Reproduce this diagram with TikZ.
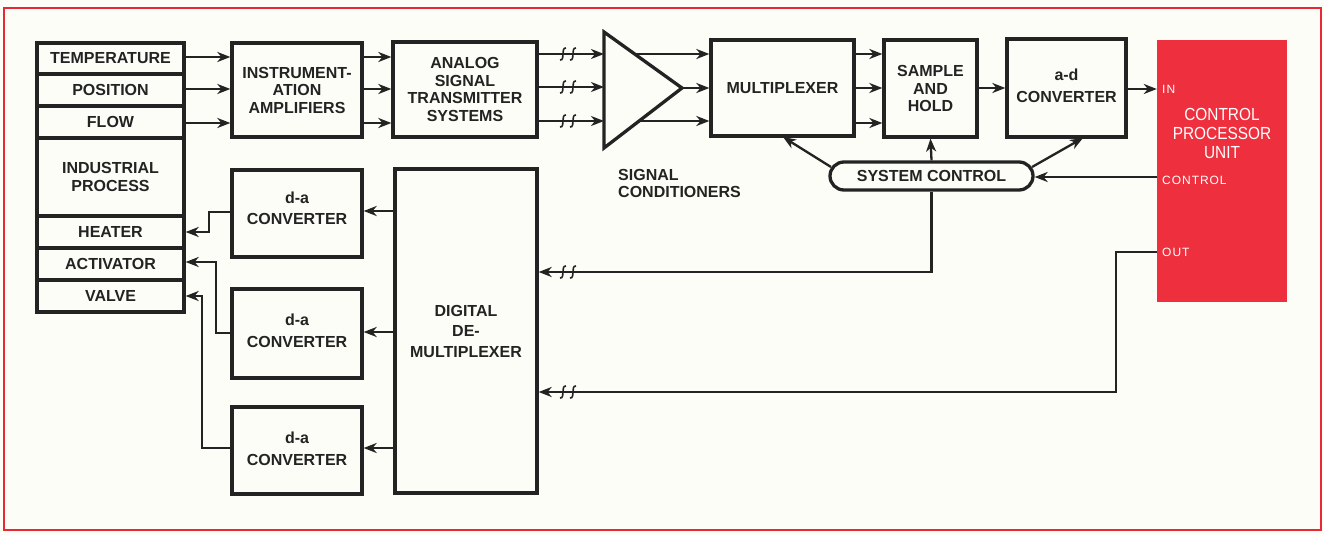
\documentclass[tikz,border=0pt]{standalone}
\usepackage{fontspec}
\setmainfont{Liberation Sans}
\newfontfamily\cpufont{Liberation Sans}[FakeStretch=0.88]
\newfontfamily\pinfont{Liberation Sans}[LetterSpace=8]
\usetikzlibrary{arrows.meta}
\definecolor{framered}{RGB}{232,40,52}
\definecolor{cpured}{RGB}{238,48,62}
\definecolor{paper}{RGB}{253,253,248}
\definecolor{ink}{RGB}{35,35,35}
\tikzset{
  box/.style={draw=ink, line width=3.3pt, fill=paper, align=center, inner sep=0pt,
    font=\fontsize{16}{17.5}\selectfont\bfseries, text=ink},
  row/.style={box, minimum width=147pt},
  lbl/.style={font=\fontsize{16}{17.5}\selectfont\bfseries, text=ink, align=center, inner sep=0pt},
  conn/.style={draw=ink, line width=2.3pt},
  arr/.style={conn, -{Stealth[length=13pt,width=10pt,inset=4pt]}},
  pinlbl/.style={font=\fontsize{12}{13}\selectfont\pinfont, text=white, anchor=west, inner sep=0pt},
  brk/.pic={
    \draw[ink, line width=1.6pt] (-2,-6) .. controls (-5,-6.5) and (-5,-2) .. (-5,0) .. controls (-5,2) and (-5,6.5) .. (-8,6);
    \draw[ink, line width=1.6pt] (8,-6) .. controls (5,-6.5) and (5,-2) .. (5,0) .. controls (5,2) and (5,6.5) .. (2,6);
  }
}
\begin{document}
\begin{tikzpicture}[x=1pt, y=-1pt]
\useasboundingbox (0,0) rectangle (1324,535);
\fill[paper] (0,0) rectangle (1324,535);
\draw[framered, line width=2pt] (4,8) rectangle (1321,530);

% left block rows
\node[row, minimum height=31pt] (temp) at (110.5,58.5) {TEMPERATURE};
\node[row, minimum height=32pt] (pos) at (110.5,90) {POSITION};
\node[row, minimum height=32pt] (flow) at (110.5,122) {FLOW};
\node[row, minimum height=78pt] (ind) at (110.5,177) {INDUSTRIAL\\PROCESS};
\node[row, minimum height=32pt] (heat) at (110.5,232) {HEATER};
\node[row, minimum height=32pt] (act) at (110.5,264) {ACTIVATOR};
\node[row, minimum height=32pt] (valve) at (110.5,296) {VALVE};

% top chain
\node[box, minimum width=130pt, minimum height=94pt] (amp) at (297,90) {INSTRUMENT-\\ATION\\AMPLIFIERS};
\node[box, minimum width=144pt, minimum height=95pt] (ana) at (465,89.5) {ANALOG\\SIGNAL\\TRANSMITTER\\SYSTEMS};
\node[box, minimum width=143pt, minimum height=96pt] (mux) at (782.5,88) {MULTIPLEXER};
\node[box, minimum width=93pt, minimum height=97pt] (sh) at (930.5,88.5) {SAMPLE\\AND\\HOLD};
\node[box, minimum width=119pt, minimum height=98pt] (ad) at (1066.5,88) {};
\node[lbl] (adt1) at (1066.5,75) {a-d};
\node[lbl] (adt2) at (1066.5,97) {CONVERTER};
\node[fill=cpured, minimum width=130pt, minimum height=262pt, inner sep=0pt] (cpu) at (1222,171) {};
\node[text=white, align=center, font=\fontsize{17.5}{19}\selectfont\cpufont, inner sep=0pt] (cputxt) at (1222,133) {CONTROL\\PROCESSOR\\UNIT};
\node[pinlbl] (pin) at (1162,89) {IN};
\node[pinlbl] (pctl) at (1162,180) {CONTROL};
\node[pinlbl] (pout) at (1162,252) {OUT};

% signal conditioner triangle
\coordinate (t1) at (604,32);
\coordinate (tt) at (682,88);
\coordinate (t2) at (604,148);
\draw[ink, line width=3.3pt, line join=miter] (t1) -- (tt) -- (t2) -- cycle;
\coordinate (tu) at (634.6,54);
\coordinate (tl) at (639,121);
\node[lbl, align=left, anchor=north west] (sc) at (618,169) {SIGNAL\\CONDITIONERS};

% lower blocks
\node[box, minimum width=130pt, minimum height=87pt] (da1) at (297,213.5) {};
\node[lbl] (da1a) at (297,198) {d-a};
\node[lbl] (da1b) at (297,219) {CONVERTER};
\node[box, minimum width=130pt, minimum height=89pt] (da2) at (297,333.5) {};
\node[lbl] (da2a) at (297,320) {d-a};
\node[lbl] (da2b) at (297,342) {CONVERTER};
\node[box, minimum width=130pt, minimum height=87pt] (da3) at (297,450.5) {};
\node[lbl] (da3a) at (297,438) {d-a};
\node[lbl] (da3b) at (297,460) {CONVERTER};
\node[box, minimum width=142pt, minimum height=324pt] (demux) at (466,331) {DIGITAL\\[3pt]DE-\\[3pt]MULTIPLEXER};
\node[box, minimum width=203pt, minimum height=28pt, rounded corners=14pt] (sys) at (931.5,176) {SYSTEM CONTROL};

% inputs
\draw[arr] (temp.east |- 0,57) -- (amp.west |- 0,57);
\draw[arr] (pos.east |- 0,89) -- (amp.west |- 0,89);
\draw[arr] (flow.east |- 0,123) -- (amp.west |- 0,123);
\draw[arr] (amp.east |- 0,57) -- (ana.west |- 0,57);
\draw[arr] (amp.east |- 0,89) -- (ana.west |- 0,89);
\draw[arr] (amp.east |- 0,123) -- (ana.west |- 0,123);
\foreach \yy in {54,87,121} {
  \draw[arr] (ana.east |- 0,\yy) -- (t1 |- 0,\yy);
  \pic at (568,\yy) {brk};
}
\draw[arr] (tu) -- (mux.west |- tu);
\draw[arr] (tt) -- (mux.west |- tt);
\draw[arr] (tl) -- (mux.west |- tl);
\draw[arr] (mux.east |- 0,54) -- (sh.west |- 0,54);
\draw[arr] (mux.east |- 0,88) -- (sh.west |- 0,88);
\draw[arr] (mux.east |- 0,123) -- (sh.west |- 0,123);
\draw[arr] (sh.east |- 0,88) -- (ad.west |- 0,88);
\draw[arr] (ad.east |- 0,89) -- (cpu.west |- 0,89);

% system control
\coordinate (sysl) at (831,167);
\coordinate (sysr) at (1032,167);
\draw[arr] (sysl) -- (783,137);
\draw[arr] (sysr) -- (1083,138);
\draw[arr] (sys.north) -- (sh.south);
\draw[arr] (cpu.west |- 0,177) -- (sys.east |- 0,177);
\coordinate (k1) at (sys.south |- 0,272);
\draw[arr] (sys.south) -- (k1) -- (demux.east |- k1);
\pic at (568,272) {brk};
\coordinate (o1) at (1116,252);
\coordinate (o2) at (1116,392);
\draw[arr] (cpu.west |- o1) -- (o1) -- (o2) -- (demux.east |- o2);
\pic at (568,392) {brk};

% outputs
\draw[arr] (demux.west |- 0,211) -- (da1.east |- 0,211);
\draw[arr] (demux.west |- 0,332) -- (da2.east |- 0,332);
\draw[arr] (demux.west |- 0,448) -- (da3.east |- 0,448);
\draw[arr] (da1.west |- 0,212) -- (209,212) -- (209,232) -- (heat.east);
\draw[arr] (da2.west |- 0,333) -- (216,333) -- (216,262) -- (act.east |- 0,262);
\draw[arr] (da3.west |- 0,448) -- (202,448) -- (202,296) -- (valve.east);
\end{tikzpicture}
\end{document}
